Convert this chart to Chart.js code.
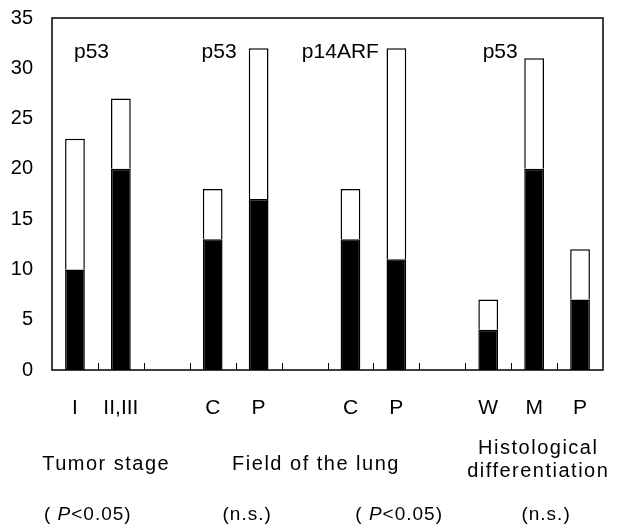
<!DOCTYPE html>
<html>
<head>
<meta charset="utf-8">
<script src="https://cdn.jsdelivr.net/npm/chart.js@4/dist/chart.umd.min.js"></script>
<style>
html,body{margin:0;padding:0;background:#fff}
#wrap{width:627px;height:526px}
</style>
</head>
<body>
<div id="wrap"><canvas id="c"></canvas></div>
<script>
// category slots, empty strings are the gaps between groups
var categories = ["I", "II,III", "", "C", "P", "", "C", "P", "", "W", "M", "P"];
var positive = [10, 20, null, 13, 17, null, 13, 11, null, 4, 20, 7];   // black part
var negative = [13, 7, null, 5, 15, null, 5, 21, null, 3, 11, 5];      // white part on top
var yTicks = [0, 5, 10, 15, 20, 25, 30, 35];

var markerNames = ["p53", "p53", "p14ARF", "p53"];
var markerPos = [0.36, 3.14, 5.78, 9.26];
var groupNames = [["Tumor stage"], ["Field of the lung"], ["Histological", "differentiation"]];
var groupPos = [0.68, 5.25, 10.09];
var pNotes = ["P<0.05", "n.s.", "P<0.05", "n.s."];
var pPos = [0.28, 3.75, 7.06, 10.26];

var FONT = "'Liberation Sans', Arial, sans-serif";

var extras = {
  id: 'extras',
  afterDatasetsDraw: function(chart) {
    var ctx = chart.ctx, a = chart.chartArea;
    var xs = chart.scales.x, ys = chart.scales.y;
    ctx.save();
    // frame round the plot
    ctx.strokeStyle = '#000';
    ctx.lineWidth = 1.5;
    ctx.strokeRect(a.left, a.top, a.right - a.left, a.bottom - a.top);

    // small inward tick marks between the category slots
    ctx.lineWidth = 1;
    for (var t = 0; t < categories.length - 1; t++) {
      var bx = Math.round((xs.getPixelForValue(t) + xs.getPixelForValue(t + 1)) / 2) + 0.5;
      ctx.beginPath();
      ctx.moveTo(bx, a.bottom);
      ctx.lineTo(bx, a.bottom - 7);
      ctx.stroke();
    }

    ctx.fillStyle = '#000';
    ctx.textBaseline = 'middle';
    ctx.textAlign = 'center';

    // gene names above the bars
    ctx.font = '21px ' + FONT;
    for (var i = 0; i < markerNames.length; i++) {
      ctx.fillText(markerNames[i], xs.getPixelForValue(markerPos[i]), ys.getPixelForValue(31.55));
    }

    // group captions under the axis
    ctx.font = '20px ' + FONT;
    ctx.letterSpacing = '1.5px';
    for (var g = 0; g < groupNames.length; g++) {
      var lines = groupNames[g];
      var x = xs.getPixelForValue(groupPos[g]);
      if (lines.length == 1) {
        ctx.fillText(lines[0], x, 464);
      } else {
        ctx.fillText(lines[0], x, 448);
        ctx.fillText(lines[1], x, 471);
      }
    }

    // significance notes, P in italic
    ctx.letterSpacing = '1px';
    ctx.textAlign = 'left';
    for (var k = 0; k < pNotes.length; k++) {
      var cx = xs.getPixelForValue(pPos[k]);
      var parts;
      if (pNotes[k].charAt(0) == 'P') {
        parts = [['( ', ''], ['P', 'italic '], [pNotes[k].slice(1) + ')', '']];
      } else {
        parts = [['(' + pNotes[k] + ')', '']];
      }
      var total = 0;
      parts.forEach(function(p) { ctx.font = p[1] + '19px ' + FONT; total += ctx.measureText(p[0]).width; });
      var px = cx - total / 2;
      parts.forEach(function(p) {
        ctx.font = p[1] + '19px ' + FONT;
        ctx.fillText(p[0], px, 515);
        px += ctx.measureText(p[0]).width;
      });
    }
    ctx.restore();
  }
};

new Chart(document.getElementById('c'), {
  type: 'bar',
  data: {
    labels: categories,
    datasets: [
      {
        label: 'positive',
        data: positive,
        backgroundColor: '#000',
        borderColor: '#000',
        borderWidth: 1.5,
        barPercentage: 0.43,
        categoryPercentage: 1.0
      },
      {
        label: 'negative',
        data: negative,
        backgroundColor: '#fff',
        borderColor: '#000',
        borderWidth: 1.5,
        barPercentage: 0.43,
        categoryPercentage: 1.0
      }
    ]
  },
  options: {
    responsive: true,
    maintainAspectRatio: false,
    animation: false,
    layout: { padding: { left: 0, right: 24, top: 18, bottom: 0 } },
    plugins: { legend: { display: false }, tooltip: { enabled: false } },
    scales: {
      x: {
        stacked: true,
        grid: { display: false, drawTicks: false },
        border: { display: false },
        ticks: { color: '#000', font: { family: FONT, size: 21 }, padding: 26, maxRotation: 0, autoSkip: false },
        afterFit: function(s) { s.height = 156; }
      },
      y: {
        stacked: true,
        min: 0,
        max: 35,
        grid: { display: false, drawTicks: false },
        border: { display: false },
        afterBuildTicks: function(s) { s.ticks = yTicks.map(function(v) { return { value: v }; }); },
        ticks: { color: '#000', font: { family: FONT, size: 20 }, padding: 19 },
        afterFit: function(s) { s.width = 52; s.paddingTop = 0; s.paddingBottom = 0; }
      }
    }
  },
  plugins: [extras]
});
</script>
</body>
</html>
